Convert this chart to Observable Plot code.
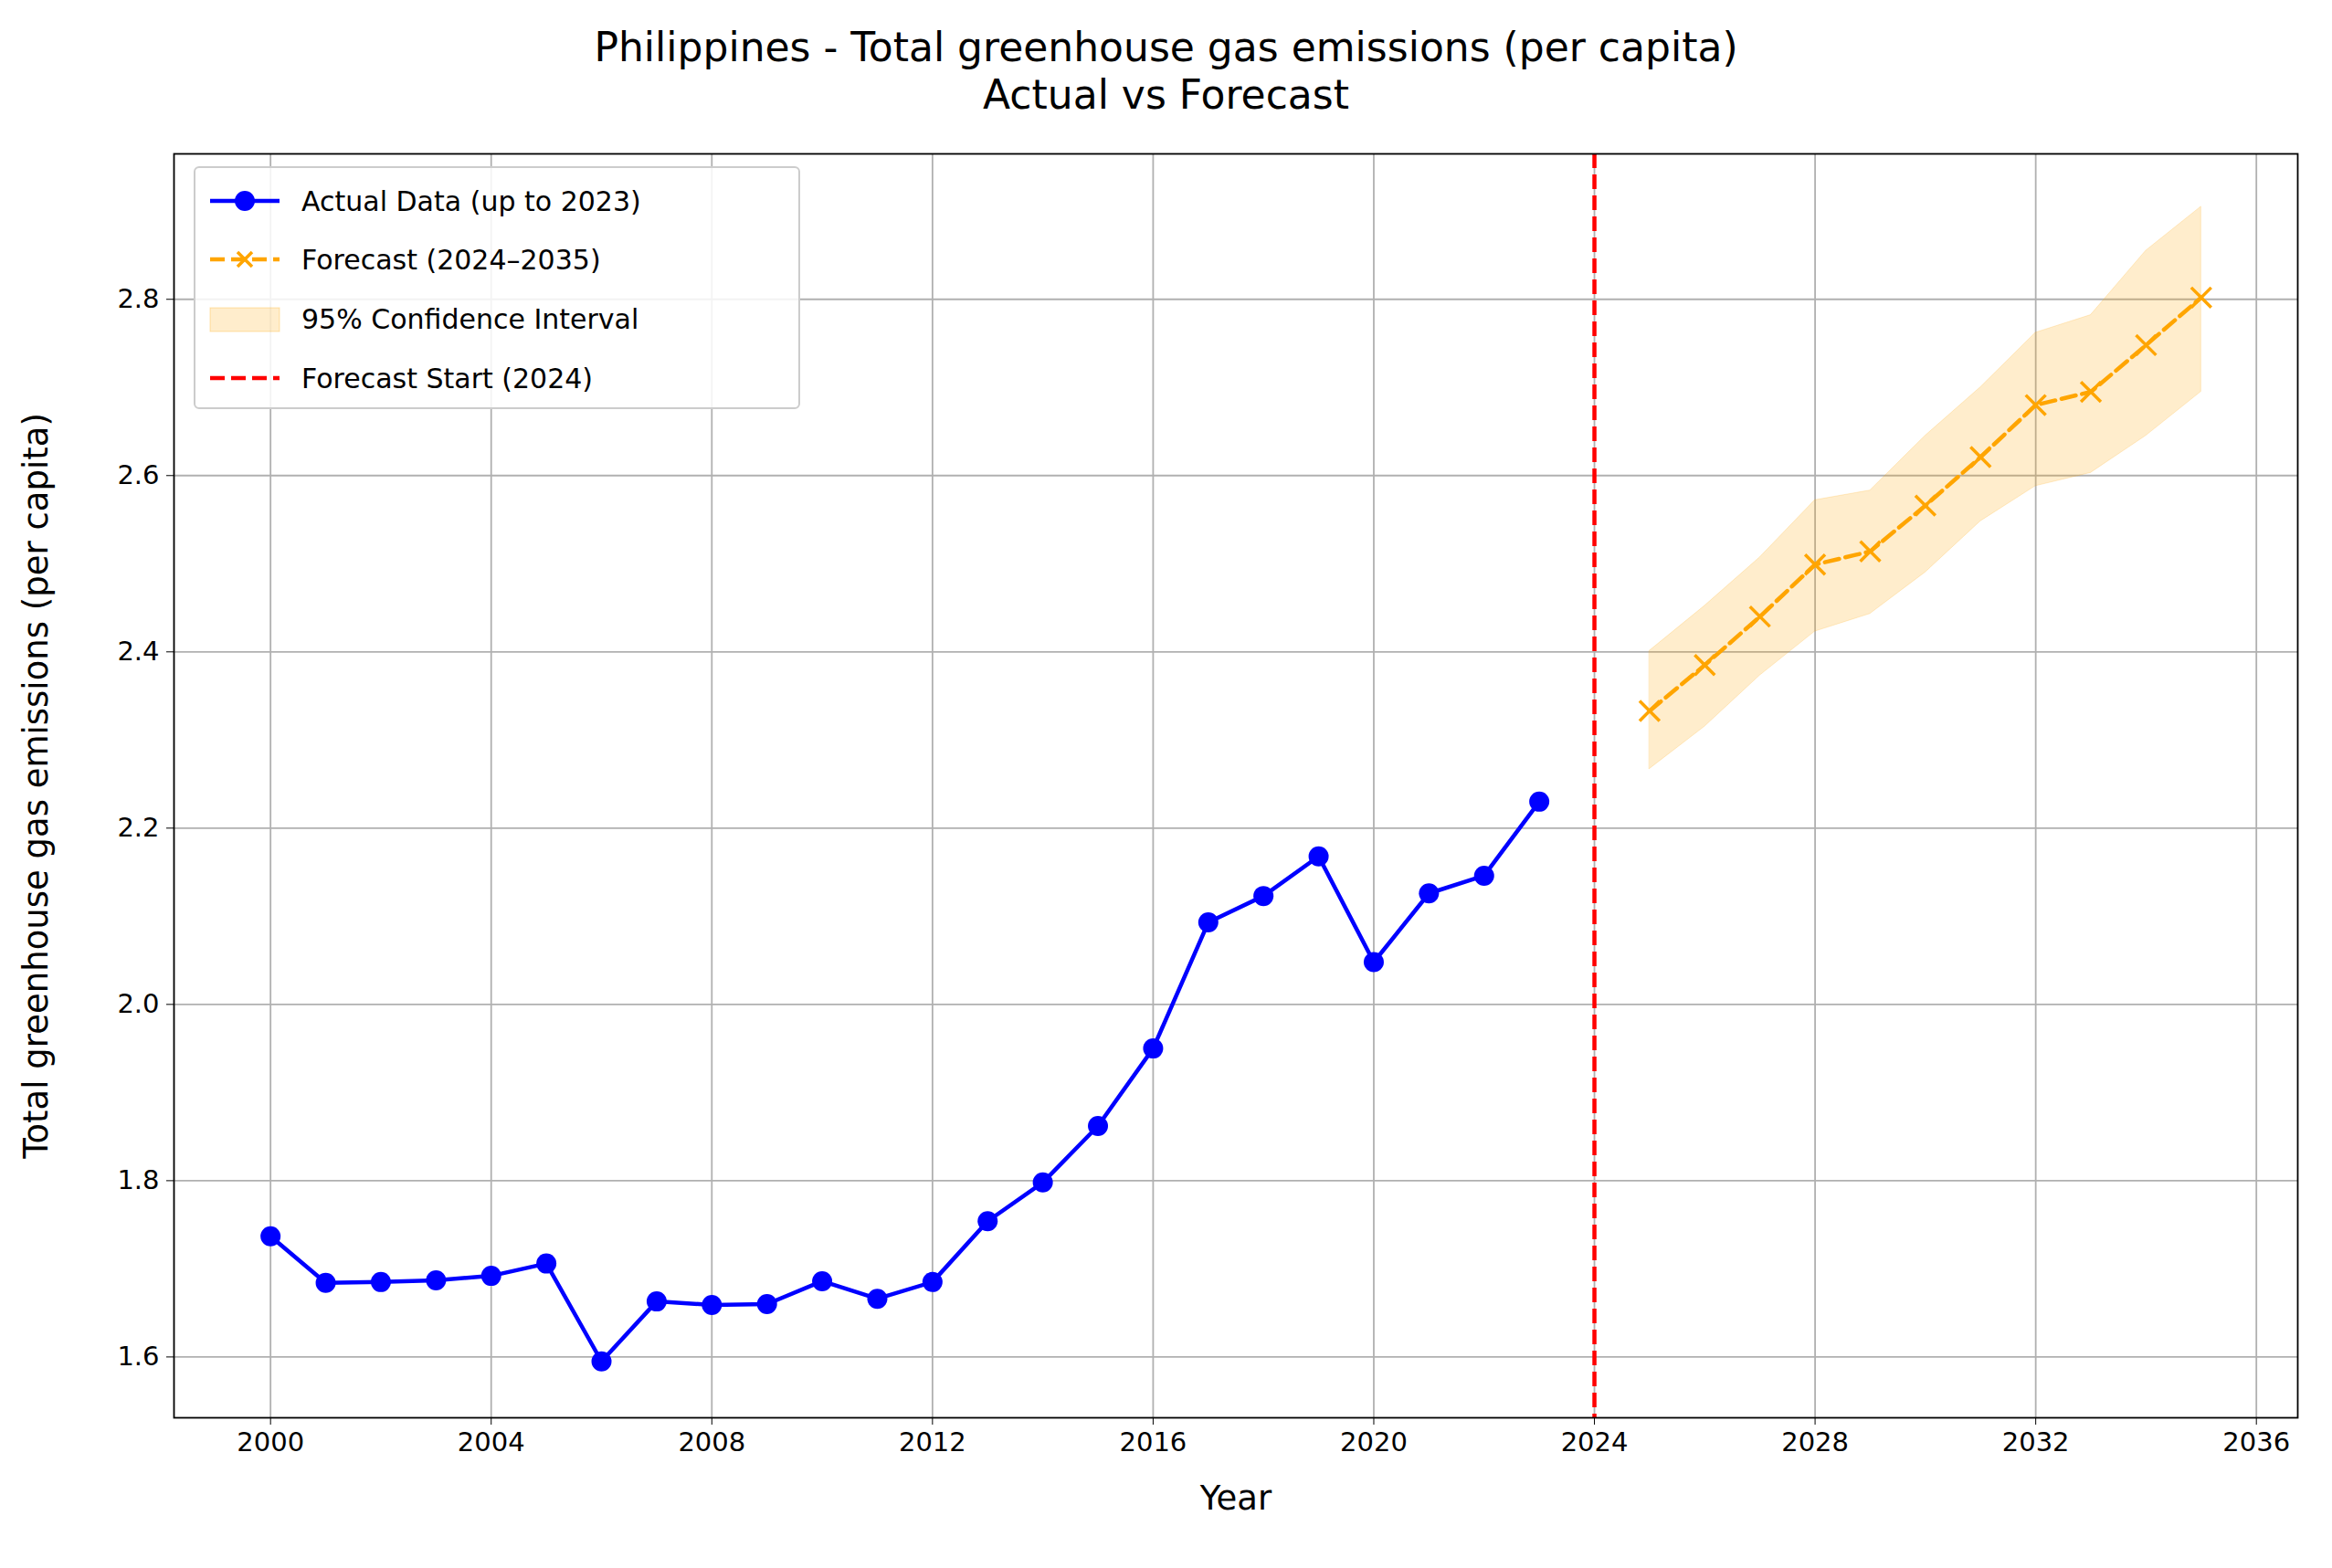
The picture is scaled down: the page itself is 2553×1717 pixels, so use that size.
<!DOCTYPE html>
<html><head><meta charset="utf-8">
<script src="https://cdn.jsdelivr.net/npm/d3@7"></script>
<script src="https://cdn.jsdelivr.net/npm/@observablehq/plot@0.6"></script>
<style>
body{margin:0;background:#fff;font-family:"DejaVu Sans",sans-serif;}
#wrap{position:relative;width:2553px;height:1717px;}
#title{height:150px;text-align:center;font-size:44px;line-height:52px;padding-top:26px;box-sizing:border-box;color:#000;}
#legend{position:absolute;left:212px;top:182px;width:664px;height:266px;border:2px solid #ccc;border-radius:6px;background:rgba(255,255,255,0.85);box-sizing:border-box;font-size:30px;}
.row{position:absolute;left:14px;display:flex;align-items:center;height:40px;}
.row span{margin-left:22px;}
</style></head><body>
<div id="wrap">
<div id="title">Philippines - Total greenhouse gas emissions (per capita)<br>Actual vs Forecast</div>
<div id="chart"></div>
<div id="legend">
 <div class="row" style="top:16px"><svg width="80" height="40"><line x1="2" x2="78" y1="20" y2="20" stroke="blue" stroke-width="4.5"/><circle cx="40" cy="20" r="11" fill="blue"/></svg><span>Actual Data (up to 2023)</span></div>
 <div class="row" style="top:80px"><svg width="80" height="40"><line x1="2" x2="78" y1="20" y2="20" stroke="orange" stroke-width="4.5" stroke-dasharray="16,7"/><path d="M32,12L48,28M48,12L32,28" stroke="orange" stroke-width="3.5"/></svg><span>Forecast (2024–2035)</span></div>
 <div class="row" style="top:145px"><svg width="80" height="40"><rect x="2" y="8" width="76" height="26" fill="orange" fill-opacity="0.2" stroke="orange" stroke-opacity="0.3"/></svg><span>95% Confidence Interval</span></div>
 <div class="row" style="top:210px"><svg width="80" height="40"><line x1="2" x2="78" y1="20" y2="20" stroke="red" stroke-width="4.5" stroke-dasharray="16,7"/></svg><span>Forecast Start (2024)</span></div>
</div>
</div>
<script>
const actualYears = d3.range(2000, 2024);
const actualValues = [1.737,1.684,1.685,1.687,1.692,1.706,1.595,1.663,1.659,1.660,1.686,1.666,1.685,1.754,1.798,1.862,1.950,2.093,2.123,2.168,2.048,2.126,2.146,2.230];
const forecastYears = d3.range(2025, 2036);
const forecastValues = [2.333,2.385,2.440,2.499,2.514,2.566,2.621,2.680,2.695,2.748,2.802];
const lowerValues = [2.267,2.315,2.373,2.423,2.443,2.490,2.548,2.588,2.603,2.645,2.695];
const upperValues = [2.401,2.452,2.507,2.572,2.583,2.645,2.700,2.762,2.782,2.855,2.905];
const xTicks = [2000,2004,2008,2012,2016,2020,2024,2028,2032,2036];
const yTicks = [1.6,1.8,2.0,2.2,2.4,2.6,2.8];
const forecastStart = 2024;

const actual = actualYears.map((x,i)=>({x, y: actualValues[i]}));
const fc = forecastYears.map((x,i)=>({x, y: forecastValues[i], lo: lowerValues[i], hi: upperValues[i]}));

const plot = Plot.plot({
  width: 2553, height: 1567,
  marginLeft: 190, marginRight: 38, marginTop: 18, marginBottom: 165,
  style: {fontFamily: "DejaVu Sans, sans-serif", fontSize: "29px", color: "#000", overflow: "visible"},
  x: {domain: [1998.25, 2036.75], ticks: xTicks, tickFormat: d3.format("d"), label: null},
  y: {domain: [1.531, 2.965], ticks: yTicks, tickFormat: d3.format(".1f"), label: null},
  marks: [
    Plot.gridX(xTicks, {stroke: "#b0b0b0", strokeOpacity: 1, strokeWidth: 1.8}),
    Plot.gridY(yTicks, {stroke: "#b0b0b0", strokeOpacity: 1, strokeWidth: 1.8}),
    Plot.areaY(fc, {x: "x", y1: "lo", y2: "hi", fill: "orange", fillOpacity: 0.2, stroke: "orange", strokeOpacity: 0.2}),
    Plot.ruleX([forecastStart], {stroke: "red", strokeWidth: 4.5, strokeDasharray: "16,7"}),
    Plot.line(actual, {x: "x", y: "y", stroke: "blue", strokeWidth: 4.5}),
    Plot.dot(actual, {x: "x", y: "y", fill: "blue", r: 11}),
    Plot.line(fc, {x: "x", y: "y", stroke: "orange", strokeWidth: 4.5, strokeDasharray: "16,7"}),
    Plot.dot(fc, {x: "x", y: "y", symbol: "times", stroke: "orange", strokeWidth: 3.5, r: 10}),
    Plot.axisX(xTicks, {tickSize: 8, tickPadding: 8, fontSize: 29, label: null, tickFormat: d3.format("d")}),
    Plot.axisY(yTicks, {tickSize: 8, tickPadding: 8, fontSize: 29, label: null, tickFormat: d3.format(".1f")}),
    Plot.frame({stroke: "#000", strokeWidth: 1.8}),
    Plot.text(["Year"], {frameAnchor: "bottom", dy: 100, fontSize: 37}),
    Plot.text(["Total greenhouse gas emissions (per capita)"], {frameAnchor: "left", dx: -150, rotate: -90, textAnchor: "middle", fontSize: 37})
  ]
});
document.getElementById("chart").appendChild(plot);
</script>
</body></html>
